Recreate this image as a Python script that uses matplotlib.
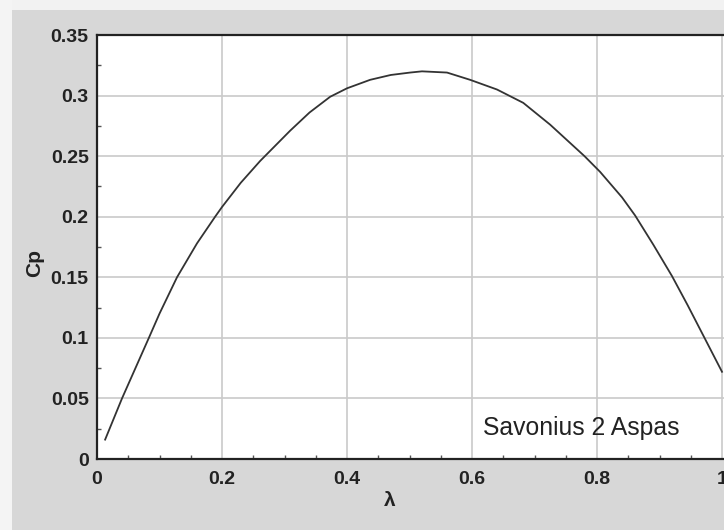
import matplotlib.pyplot as plt
from matplotlib.patches import Rectangle
from matplotlib.ticker import MultipleLocator

# Cp vs tip speed ratio, two-bladed Savonius rotor
lam = [0.013, 0.04, 0.083, 0.1, 0.128, 0.16, 0.189, 0.2, 0.23, 0.261, 0.309,
       0.34, 0.373, 0.40, 0.437, 0.47, 0.501, 0.52, 0.56, 0.597, 0.64, 0.682,
       0.725, 0.78, 0.805, 0.84, 0.861, 0.89, 0.92, 0.945, 0.97, 1.0]
cp = [0.016, 0.05, 0.10, 0.12, 0.15, 0.178, 0.20, 0.208, 0.228, 0.246, 0.271,
      0.286, 0.299, 0.306, 0.313, 0.317, 0.319, 0.320, 0.319, 0.313, 0.305, 0.294,
      0.276, 0.25, 0.237, 0.216, 0.201, 0.177, 0.151, 0.127, 0.102, 0.072]
label = 'Savonius 2 Aspas'

plt.rcParams['font.family'] = ['Liberation Sans', 'DejaVu Sans']

W, H = 724, 530
fig = plt.figure(figsize=(W / 100, H / 100), dpi=100, facecolor='#d7d7d7')
# pale margin along top and left
fig.patches.append(Rectangle((0, 1 - 10 / H), 1, 10 / H, transform=fig.transFigure,
                             facecolor='#f2f2f2', edgecolor='none', zorder=0))
fig.patches.append(Rectangle((0, 0), 12 / W, 1, transform=fig.transFigure,
                             facecolor='#f4f4f4', edgecolor='none', zorder=0))

x0, x1 = 97, 730
y0, y1 = 459, 35
ax = fig.add_axes([x0 / W, 1 - y0 / H, (x1 - x0) / W, (y0 - y1) / H])
ax.set_facecolor('white')
ax.set_xlim(0, (x1 - x0) / 625)
ax.set_ylim(0, 0.35)

ax.plot(lam, cp, color='#333333', lw=1.3, zorder=3)

ax.xaxis.set_minor_locator(MultipleLocator(0.05))
ax.yaxis.set_minor_locator(MultipleLocator(0.025))
ax.set_xticks([0, 0.2, 0.4, 0.6, 0.8, 1.0])
ax.set_xticklabels(['0', '0.2', '0.4', '0.6', '0.8', '1'])
ax.set_yticks([0, 0.05, 0.1, 0.15, 0.2, 0.25, 0.3, 0.35])
ax.set_yticklabels(['0', '0.05', '0.1', '0.15', '0.2', '0.25', '0.3', '0.35'])

ax.grid(True, which='major', color='#cacaca', lw=1.2)
ax.tick_params(which='major', direction='in', length=0, labelsize=14,
               labelcolor='#222222')
ax.tick_params(axis='y', which='major', pad=6)
ax.tick_params(axis='x', which='major', pad=9)
ax.tick_params(which='minor', direction='in', length=3, width=1, color='#555555')
for lab in ax.get_xticklabels() + ax.get_yticklabels():
    lab.set_fontweight('bold')

for s in ['left', 'bottom', 'top']:
    ax.spines[s].set_color('#222222')
    ax.spines[s].set_linewidth(1.6)
ax.spines['right'].set_visible(False)

fig.text(35 / W, 1 - 263 / H, 'Cp', rotation=90, fontsize=15, fontweight='bold',
         color='#222222', ha='center', va='center')
fig.text(390 / W, 1 - 500 / H, 'λ', fontsize=15, fontweight='bold',
         color='#222222', ha='center', va='center')

ax.text(0.617, 0.026, label, fontsize=17.8, color='#222222', ha='left', va='center')

fig.savefig('out.png', dpi=100, facecolor=fig.get_facecolor())
